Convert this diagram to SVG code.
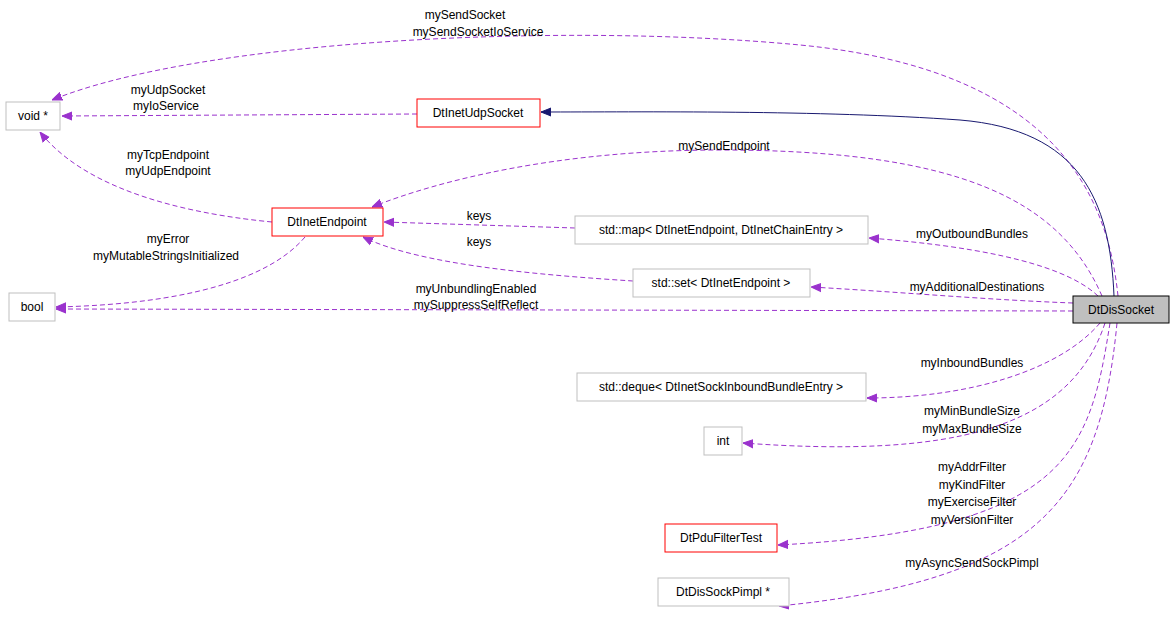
<svg xmlns="http://www.w3.org/2000/svg" width="1176" height="625" viewBox="0 0 1176 625">
<style>
text{font-family:"Liberation Sans",Arial,sans-serif;font-size:12px;fill:#000;text-anchor:middle}
.n{fill:#fff;stroke:#bfbfbf;stroke-width:1}
.r{fill:#fff;stroke:#ff0000;stroke-width:1}
.e{fill:none;stroke:#9a32cd;stroke-width:1;stroke-dasharray:5,3}
.s{fill:none;stroke:#191970;stroke-width:1}
</style>
<defs>
<marker id="ap" viewBox="0 0 10 10" refX="10" refY="5" markerWidth="10" markerHeight="10" markerUnits="userSpaceOnUse" orient="auto"><path d="M0,1 L10,5 L0,9 z" fill="#9a32cd" stroke="#9a32cd"/></marker>
<marker id="an" viewBox="0 0 10 10" refX="10" refY="5" markerWidth="10" markerHeight="10" markerUnits="userSpaceOnUse" orient="auto"><path d="M0,1 L10,5 L0,9 z" fill="#191970" stroke="#191970"/></marker>
</defs>
<rect width="1176" height="625" fill="#fff"/>
<g id="connectors">
<path class="e" marker-end="url(#ap)" d="M1118,296 C1108,200 1060,70 800,45 C560,22 200,40 52,100"/>
<text x="465" y="19">mySendSocket</text><text x="478" y="36">mySendSocketIoService</text>
<path class="e" marker-end="url(#ap)" d="M417,114 L62,116"/>
<text x="168" y="94">myUdpSocket</text><text x="166" y="110">myIoService</text>
<path class="s" marker-end="url(#an)" d="M1114,296 C1110,200 1080,130 960,120 C820,110 640,112 541,112"/>
<path class="e" marker-end="url(#ap)" d="M272,222 C200,215 90,195 40,132"/>
<text x="168" y="159">myTcpEndpoint</text><text x="168" y="175">myUdpEndpoint</text>
<path class="e" marker-end="url(#ap)" d="M305,237 C260,290 150,305 56,307"/>
<text x="168" y="243">myError</text><text x="166" y="260">myMutableStringsInitialized</text>
<path class="e" marker-end="url(#ap)" d="M1073,311 L56,309"/>
<text x="476" y="293">myUnbundlingEnabled</text><text x="476" y="309">mySuppressSelfReflect</text>
<path class="e" marker-end="url(#ap)" d="M1102,296 C1060,200 960,150 720,150 C560,150 440,180 372,207"/>
<text x="724" y="150">mySendEndpoint</text>
<path class="e" marker-end="url(#ap)" d="M575,228 L384,222"/>
<text x="479" y="220">keys</text>
<path class="e" marker-end="url(#ap)" d="M633,281 C540,275 420,265 363,237"/>
<text x="479" y="246">keys</text>
<path class="e" marker-end="url(#ap)" d="M1098,296 C1060,260 960,245 869,238"/>
<text x="972" y="238">myOutboundBundles</text>
<path class="e" marker-end="url(#ap)" d="M1073,303 C990,300 900,292 811,287"/>
<text x="977" y="291">myAdditionalDestinations</text>
<path class="e" marker-end="url(#ap)" d="M1100,323 C1060,370 970,398 867,398"/>
<text x="972" y="367">myInboundBundles</text>
<path class="e" marker-end="url(#ap)" d="M1105,323 C1070,430 950,458 743,443"/>
<text x="972" y="415">myMinBundleSize</text><text x="972" y="433">myMaxBundleSize</text>
<path class="e" marker-end="url(#ap)" d="M1110,323 C1090,450 1070,530 778,545"/>
<text x="972" y="471">myAddrFilter</text><text x="972" y="489">myKindFilter</text><text x="972" y="506">myExerciseFilter</text><text x="972" y="524">myVersionFilter</text>
<path class="e" marker-end="url(#ap)" d="M1117,323 C1100,500 1040,580 779,606"/>
<text x="972" y="567">myAsyncSendSockPimpl</text>
</g>
<g id="void"><rect class="n" x="6" y="102" width="54" height="28"/><text x="33" y="120">void *</text></g>
<g id="udp"><rect class="r" x="417" y="99" width="123" height="28"/><text x="478" y="117">DtInetUdpSocket</text></g>
<g id="endpoint"><rect class="r" x="272" y="208" width="111" height="28"/><text x="327" y="226">DtInetEndpoint</text></g>
<g id="bool"><rect class="n" x="9" y="293" width="46" height="28"/><text x="32" y="311">bool</text></g>
<g id="map"><rect class="n" x="575" y="216" width="293" height="28"/><text x="721" y="234">std::map&lt; DtInetEndpoint, DtInetChainEntry &gt;</text></g>
<g id="set"><rect class="n" x="633" y="269" width="177" height="28"/><text x="721" y="287">std::set&lt; DtInetEndpoint &gt;</text></g>
<g id="dis"><rect x="1073" y="296" width="96" height="27" fill="#bfbfbf" stroke="#000"/><text x="1121" y="314">DtDisSocket</text></g>
<g id="deque"><rect class="n" x="577" y="373" width="289" height="28"/><text x="721" y="391">std::deque&lt; DtInetSockInboundBundleEntry &gt;</text></g>
<g id="int"><rect class="n" x="704" y="427" width="38" height="28"/><text x="723" y="445">int</text></g>
<g id="pdu"><rect class="r" x="665" y="524" width="112" height="28"/><text x="721" y="542">DtPduFilterTest</text></g>
<g id="pimpl"><rect class="n" x="658" y="578" width="131" height="28"/><text x="723" y="596">DtDisSockPimpl *</text></g>
</svg>
